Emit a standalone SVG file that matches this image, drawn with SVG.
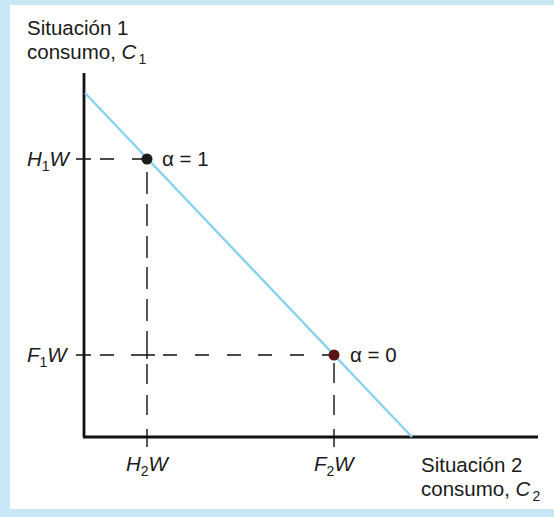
<svg xmlns="http://www.w3.org/2000/svg" width="554" height="517" viewBox="0 0 554 517">
<style>
.t{font-family:"Liberation Sans",Arial,sans-serif;font-size:20.5px;fill:#1a1a1a}
.i{font-style:italic}
.s{font-size:14px;font-style:normal}
.ax{stroke:#111;stroke-width:2.8;fill:none}
.dash{stroke:#111;stroke-width:1.4;fill:none}
</style>
<rect x="0" y="0" width="554" height="517" fill="#c8e8f8"/>
<rect x="10" y="5" width="544" height="504" fill="#ffffff"/>
<g id="connectors">
<line class="ax" x1="84" y1="73" x2="84" y2="437"/>
<line class="ax" x1="83" y1="437" x2="538" y2="437"/>
<line x1="85" y1="93" x2="412" y2="437" stroke="#88d2f0" stroke-width="2.4"/>
<path class="dash" d="M76 159H91M100 159H114M132 159H147
M76 355H91M100 355H114M131 355H155M163 355H177M195 355H209M227 355H241M258 355H272M290 355H304M322 355H334
M147 172V194M147 204V226M147 236V258M147 267V289M147 299V321M147 331V359M147 364V384M147 395V415M147 429V447
M334 363V383M334 395V415M334 429V447"/>
</g>
<g id="yaxis-label">
<text class="t" x="27" y="35">Situación 1</text>
<text class="t" x="27" y="59">consumo, <tspan class="i">C</tspan><tspan class="s" dx="2" dy="5">1</tspan></text>
</g>
<g id="xaxis-label">
<text class="t" x="421" y="472">Situación 2</text>
<text class="t" x="421" y="496">consumo, <tspan class="i">C</tspan><tspan class="s" dx="2" dy="5">2</tspan></text>
</g>
<g id="H1W"><text class="t i" x="27" y="166">H<tspan class="s" dy="5">1</tspan><tspan dy="-5">W</tspan></text></g>
<g id="F1W"><text class="t i" x="27" y="362">F<tspan class="s" dy="5">1</tspan><tspan dy="-5">W</tspan></text></g>
<g id="H2W"><text class="t i" x="126" y="471">H<tspan class="s" dy="5">2</tspan><tspan dy="-5">W</tspan></text></g>
<g id="F2W"><text class="t i" x="314" y="471">F<tspan class="s" dy="5">2</tspan><tspan dy="-5">W</tspan></text></g>
<g id="point-alpha1">
<circle cx="147" cy="159" r="5.5" fill="#1a1a1a"/>
<text class="t" x="162" y="166">α = 1</text>
</g>
<g id="point-alpha0">
<circle cx="334" cy="355" r="5.5" fill="#5a1414"/>
<text class="t" x="350" y="362">α = 0</text>
</g>
</svg>
